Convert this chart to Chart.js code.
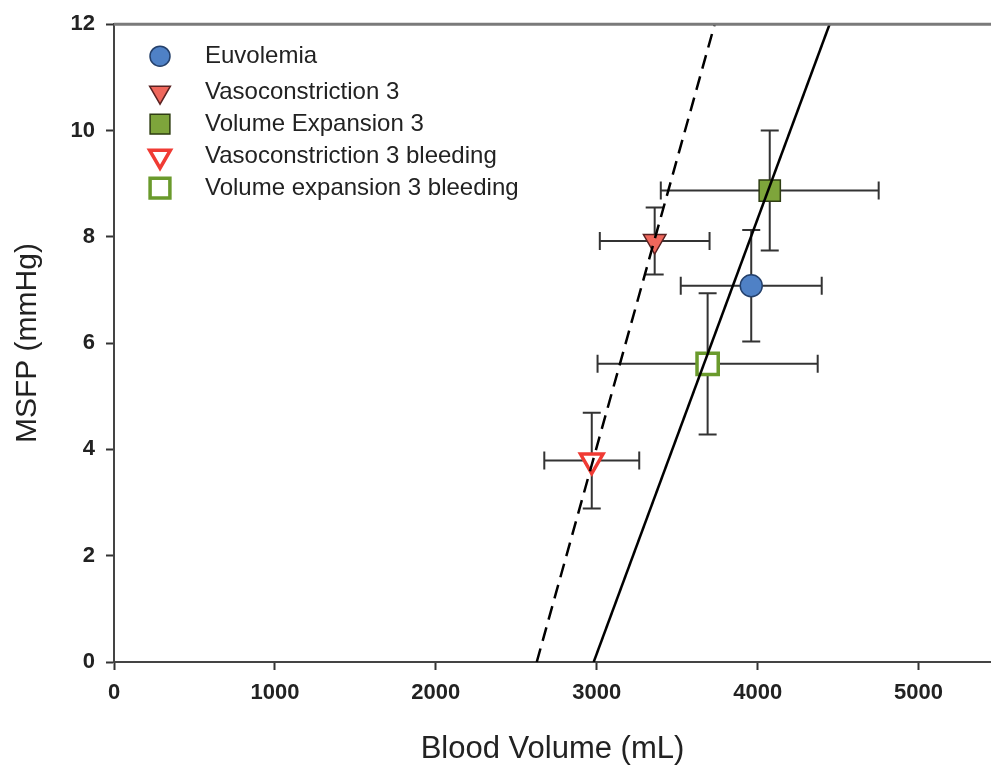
<!DOCTYPE html>
<html>
<head>
<meta charset="utf-8">
<script src="https://cdn.jsdelivr.net/npm/chart.js@4/dist/chart.umd.min.js"></script>
<style>
  html, body { margin: 0; padding: 0; background: #fff; overflow: hidden; }
  canvas { display: block; }
</style>
</head>
<body>
<canvas id="msfp" width="991" height="773"></canvas>
<script>
"use strict";

// groups and their values (blood volume mL, MSFP mmHg)
const groupLabels = ["Euvolemia", "Vasoconstriction 3", "Volume Expansion 3",
    "Vasoconstriction 3 bleeding", "Volume expansion 3 bleeding"];
const volumes = [3960, 3360, 4075, 2969, 3689];
const pressures = [7.08, 7.92, 8.87, 3.79, 5.61];
const volumeErr = [438, 341, 677, 295, 684];
const pressureErr = [1.05, 0.63, 1.13, 0.9, 1.33];

// regression lines (end points)
const solidFitX = [2981, 4447];
const solidFitY = [0, 12];
const dashedFitX = [2627, 3733];
const dashedFitY = [0, 12];

const xTicks = [0, 1000, 2000, 3000, 4000, 5000];
const yTicks = [0, 2, 4, 6, 8, 10, 12];

// marker looks
const markerStyle = ["circle", "triangle", "rect", "triangle", "rect"];
const markerRotation = [0, 180, 0, 180, 0];
const markerRadius = [11, 13, 15, 13, 15];
const markerFill = ["#4f81c6", "#f0675c", "#7ea53b", "#ffffff", "#ffffff"];
const markerEdge = ["#24406b", "#5a2222", "#2e3d12", "#f03b34", "#6a9a2c"];
const markerEdgeW = [1.5, 1.5, 1.5, 3.5, 3.5];

const toPts = (xs, ys) => xs.map((x, i) => ({ x: x, y: ys[i] }));

const datasets = [
    {
        type: "line", label: "fit", data: toPts(solidFitX, solidFitY),
        borderColor: "#000", borderWidth: 2.5, pointRadius: 0, order: 0
    },
    {
        type: "line", label: "fit bleeding", data: toPts(dashedFitX, dashedFitY),
        borderColor: "#000", borderWidth: 2.5, borderDash: [14, 8], pointRadius: 0, order: 0
    }
];
groupLabels.forEach((lab, i) => {
    datasets.push({
        type: "scatter",
        label: lab,
        data: [{ x: volumes[i], y: pressures[i] }],
        pointStyle: markerStyle[i],
        rotation: markerRotation[i],
        pointRadius: markerRadius[i],
        pointHoverRadius: markerRadius[i],
        backgroundColor: markerFill[i],
        borderColor: markerEdge[i],
        borderWidth: markerEdgeW[i],
        order: 1
    });
});

// error bars under the markers
const errorBars = {
    id: "errorBars",
    beforeDatasetsDraw(chart) {
        const ctx = chart.ctx;
        const xs = chart.scales.x, ys = chart.scales.y;
        const cap = 9;
        ctx.save();
        ctx.strokeStyle = "#333";
        ctx.lineWidth = 2;
        groupLabels.forEach((lab, i) => {
            const cx = xs.getPixelForValue(volumes[i]);
            const cy = ys.getPixelForValue(pressures[i]);
            const x0 = xs.getPixelForValue(volumes[i] - volumeErr[i]);
            const x1 = xs.getPixelForValue(volumes[i] + volumeErr[i]);
            const y0 = ys.getPixelForValue(pressures[i] - pressureErr[i]);
            const y1 = ys.getPixelForValue(pressures[i] + pressureErr[i]);
            ctx.beginPath();
            ctx.moveTo(x0, cy); ctx.lineTo(x1, cy);
            ctx.moveTo(x0, cy - cap); ctx.lineTo(x0, cy + cap);
            ctx.moveTo(x1, cy - cap); ctx.lineTo(x1, cy + cap);
            ctx.moveTo(cx, y0); ctx.lineTo(cx, y1);
            ctx.moveTo(cx - cap, y0); ctx.lineTo(cx + cap, y0);
            ctx.moveTo(cx - cap, y1); ctx.lineTo(cx + cap, y1);
            ctx.stroke();
        });
        ctx.restore();
    }
};

// top frame line + legend inside the plot
const frameAndLegend = {
    id: "frameAndLegend",
    afterDraw(chart) {
        const ctx = chart.ctx;
        const a = chart.chartArea;
        ctx.save();
        ctx.strokeStyle = "#7a7a7a";
        ctx.lineWidth = 3;
        ctx.beginPath();
        ctx.moveTo(a.left, a.top);
        ctx.lineTo(a.right, a.top);
        ctx.stroke();

        const mx = a.left + 46, tx = a.left + 91;
        let y = a.top + 32;
        ctx.font = "24px 'Liberation Sans', Arial, sans-serif";
        ctx.textBaseline = "middle";
        groupLabels.forEach((lab, i) => {
            ctx.fillStyle = markerFill[i];
            ctx.strokeStyle = markerEdge[i];
            ctx.lineWidth = markerEdgeW[i];
            Chart.helpers.drawPoint(ctx, {
                pointStyle: markerStyle[i],
                rotation: markerRotation[i],
                radius: markerRadius[i] - 1,
                borderWidth: markerEdgeW[i]
            }, mx, y);
            ctx.fillStyle = "#222";
            ctx.fillText(lab, tx, y);
            y += i === 0 ? 36 : 32;
        });
        ctx.restore();
    }
};

new Chart(document.getElementById("msfp"), {
    type: "scatter",
    data: { datasets: datasets },
    options: {
        responsive: false,
        animation: false,
        layout: { autoPadding: false, padding: { top: 21, right: 0, left: 0, bottom: 0 } },
        plugins: {
            legend: { display: false },
            tooltip: { enabled: false }
        },
        scales: {
            x: {
                type: "linear",
                min: 0,
                max: 5450,
                afterBuildTicks: s => { s.ticks = xTicks.map(v => ({ value: v })); },
                afterFit: s => { s.height = 111; s.paddingLeft = 0; s.paddingRight = 0; },
                grid: { drawOnChartArea: false, drawTicks: true, tickLength: 8, tickColor: "#333", tickWidth: 2 },
                border: { display: true, color: "#444", width: 2 },
                ticks: {
                    color: "#222",
                    padding: 10,
                    maxRotation: 0,
                    callback: v => String(v),
                    font: { family: "'Liberation Sans', Arial, sans-serif", size: 22, weight: "bold" }
                },
                title: {
                    display: true,
                    text: "Blood Volume (mL)",
                    color: "#222",
                    padding: { top: 0, bottom: 5 },
                    font: { family: "'Liberation Sans', Arial, sans-serif", size: 31 }
                }
            },
            y: {
                type: "linear",
                min: 0,
                max: 12,
                afterBuildTicks: s => { s.ticks = yTicks.map(v => ({ value: v })); },
                afterFit: s => { s.width = 114; },
                grid: { drawOnChartArea: false, drawTicks: true, tickLength: 8, tickColor: "#333", tickWidth: 2 },
                border: { display: true, color: "#444", width: 2 },
                ticks: {
                    color: "#222",
                    padding: 11,
                    callback: v => String(v),
                    font: { family: "'Liberation Sans', Arial, sans-serif", size: 22, weight: "bold" }
                },
                title: {
                    display: true,
                    text: "MSFP (mmHg)",
                    color: "#222",
                    padding: { top: 10, bottom: 0 },
                    font: { family: "'Liberation Sans', Arial, sans-serif", size: 30 }
                }
            }
        }
    },
    plugins: [errorBars, frameAndLegend]
});
</script>
</body>
</html>
